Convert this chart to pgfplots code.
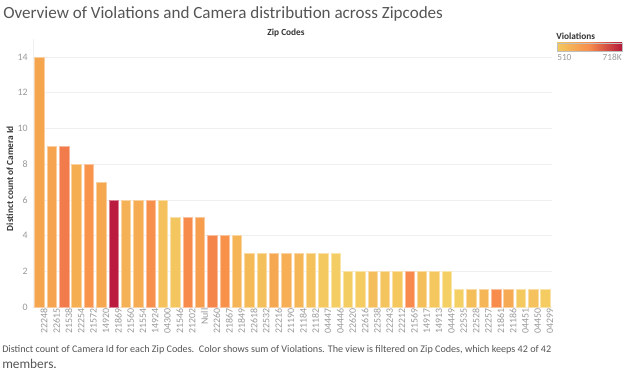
\documentclass[border=0pt]{standalone}
\usepackage{pgfplots}
\pgfplotsset{compat=1.18}
\usepackage{fontspec}
\setmainfont{Carlito}
\definecolor{txt}{HTML}{555555}
\definecolor{tick}{HTML}{999999}
\definecolor{grd}{HTML}{F0F0F0}
\definecolor{c1}{HTML}{F6A54F}\definecolor{c2}{HTML}{F6A450}\definecolor{c3}{HTML}{F27B4B}
\definecolor{c4}{HTML}{F6AE52}\definecolor{c5}{HTML}{F8944C}\definecolor{c6}{HTML}{F6A851}
\definecolor{c7}{HTML}{BA1B3E}\definecolor{c8}{HTML}{F5B155}\definecolor{c9}{HTML}{F6AC52}
\definecolor{c10}{HTML}{F7904C}\definecolor{c11}{HTML}{F4C15D}\definecolor{c12}{HTML}{F4C660}
\definecolor{c13}{HTML}{F78B4B}\definecolor{c14}{HTML}{F79D4E}\definecolor{c15}{HTML}{F5864B}
\definecolor{c16}{HTML}{F8924B}\definecolor{c17}{HTML}{F5B456}\definecolor{c18}{HTML}{F5BA58}
\definecolor{c19}{HTML}{F4C05C}\definecolor{c20}{HTML}{F6A752}\definecolor{c21}{HTML}{F6AF54}
\definecolor{c22}{HTML}{F5B657}\definecolor{c23}{HTML}{F4C15C}\definecolor{c24}{HTML}{F4C960}
\definecolor{c25}{HTML}{F4CE64}\definecolor{c26}{HTML}{F3CC62}\definecolor{c27}{HTML}{F4CC62}
\definecolor{c28}{HTML}{F4BE5C}\definecolor{c29}{HTML}{F4C55F}\definecolor{c30}{HTML}{F4C75F}
\definecolor{c31}{HTML}{F78A4C}\definecolor{c32}{HTML}{F4BE5A}\definecolor{c33}{HTML}{F4C75F}
\definecolor{c34}{HTML}{F4CF63}\definecolor{c35}{HTML}{F4D064}\definecolor{c36}{HTML}{F4BE5B}
\definecolor{c37}{HTML}{F5B658}\definecolor{c38}{HTML}{F78C4C}\definecolor{c39}{HTML}{F6AA53}
\definecolor{c40}{HTML}{F4CA60}\definecolor{c41}{HTML}{F5C25D}\definecolor{c42}{HTML}{F4CC62}
\definecolor{lgY}{HTML}{F3CA5E}\definecolor{lgO}{HTML}{F78C4C}\definecolor{lgR}{HTML}{B5193A}
\newcommand{\bb}[3]{\addplot[fill=#3, draw=#3!55!white, line width=0.4pt] coordinates {(#1,#2)};}
\begin{document}
\begin{tikzpicture}
\useasboundingbox (0,0) rectangle (468pt,279pt);
\begin{axis}[
  at={(24.98pt,48.75pt)}, anchor=south west,
  scale only axis, width=388.7pt, height=198.75pt,
  xmin=-0.5, xmax=41.5, ymin=0, ymax=14.84,
  every axis plot/.style={ybar, bar width=7.1pt, bar shift=0pt},
  axis line style={draw=none},
  ytick={0,2,4,6,8,10,12,14},
  ymajorgrids, grid style={grd, line width=0.5pt},
  major tick length=0pt,
  xtick={0,...,41},
  xticklabels={22248,22615,21538,22254,21572,14920,21869,21560,21554,14924,04300,21546,21202,Null,22260,21867,21849,22618,22532,22216,21190,21184,21182,04447,04446,22620,22616,22538,22243,22212,21569,14917,14913,04449,22535,22528,22257,21861,21186,04451,04450,04299},
  xticklabel style={rotate=90, anchor=east, font=\fontsize{7.4}{8}\selectfont, text=tick, inner sep=1pt, yshift=-3.5pt},
  yticklabel style={font=\fontsize{7.4}{8}\selectfont, text=tick, inner sep=1pt, xshift=-3pt},
  /pgf/number format/assume math mode=true,
  clip=false,
]
\bb{0}{14}{c1}\bb{1}{9}{c2}\bb{2}{9}{c3}\bb{3}{8}{c4}\bb{4}{8}{c5}\bb{5}{7}{c6}
\bb{6}{6}{c7}\bb{7}{6}{c8}\bb{8}{6}{c9}\bb{9}{6}{c10}\bb{10}{6}{c11}
\bb{11}{5}{c12}\bb{12}{5}{c13}\bb{13}{5}{c14}
\bb{14}{4}{c15}\bb{15}{4}{c16}\bb{16}{4}{c17}
\bb{17}{3}{c18}\bb{18}{3}{c19}\bb{19}{3}{c20}\bb{20}{3}{c21}\bb{21}{3}{c22}\bb{22}{3}{c23}\bb{23}{3}{c24}\bb{24}{3}{c25}
\bb{25}{2}{c26}\bb{26}{2}{c27}\bb{27}{2}{c28}\bb{28}{2}{c29}\bb{29}{2}{c30}\bb{30}{2}{c31}\bb{31}{2}{c32}\bb{32}{2}{c33}\bb{33}{2}{c34}
\bb{34}{1}{c35}\bb{35}{1}{c36}\bb{36}{1}{c37}\bb{37}{1}{c38}\bb{38}{1}{c39}\bb{39}{1}{c40}\bb{40}{1}{c41}\bb{41}{1}{c42}
\end{axis}
% left faint axis line
\draw[grd, line width=0.6pt] (24.98pt,48.75pt) -- (24.98pt,250pt);
% title
\node[anchor=west, inner sep=0pt, text=txt] at (2.25pt,268.5pt) {\fontsize{12.8}{15}\selectfont Overview of Violations and Camera distribution across Zipcodes};
\node[inner sep=0pt, text=black!80] at (214.5pt,254.25pt) {\fontsize{7}{8}\selectfont\bfseries Zip Codes};
\node[rotate=90, inner sep=0pt, text=black!80] at (7.5pt,145pt) {\fontsize{7}{8}\selectfont\bfseries Distinct count of Camera Id};
% caption
\node[anchor=north west, inner sep=0pt, text=txt, align=left] at (1.5pt,19.8pt) {\fontsize{7.6}{9}\selectfont Distinct count of Camera Id for each Zip Codes.\ \ Color shows sum of Violations. The view is filtered on Zip Codes, which keeps 42 of 42\\members.};
% legend
\node[anchor=west, inner sep=0pt, text=black!80] at (417pt,252pt) {\fontsize{7}{8}\selectfont\bfseries Violations};
\shade[left color=lgY, right color=lgR, middle color=lgO] (417.75pt,240.75pt) rectangle (466.5pt,246.75pt);
\draw[black!25, line width=0.3pt] (417.75pt,240.75pt) rectangle (466.5pt,246.75pt);
\node[anchor=west, inner sep=0pt, text=tick] at (417.75pt,236pt) {\fontsize{7}{8}\selectfont 510};
\node[anchor=east, inner sep=0pt, text=tick] at (466.5pt,236pt) {\fontsize{7}{8}\selectfont 718K};
\end{tikzpicture}
\end{document}
